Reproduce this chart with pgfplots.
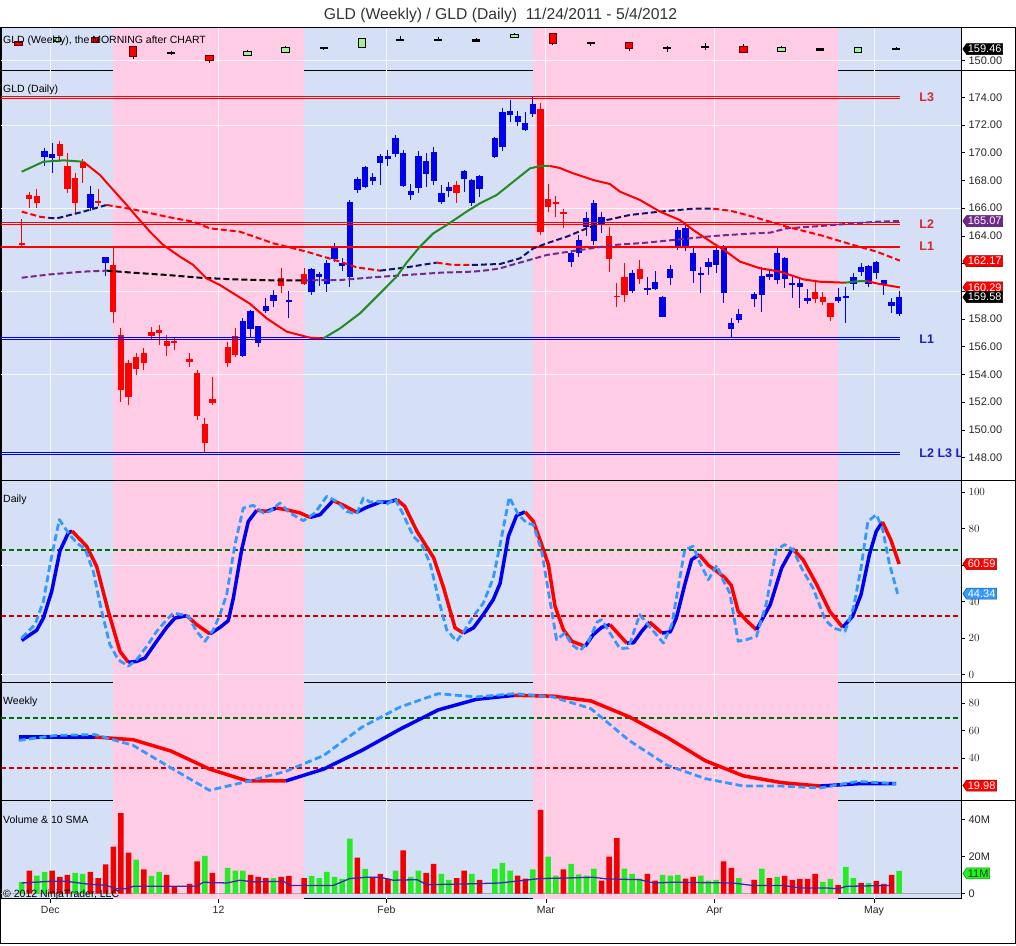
\documentclass[border=0pt]{standalone}
\usepackage{fontspec}
\setmainfont{Liberation Sans}
\usepackage{pgfplots}
\usepackage{pgfplotstable}
\pgfplotsset{compat=1.18}
\usetikzlibrary{shapes.symbols}

\definecolor{bluebg}{RGB}{213,223,246}
\definecolor{pinkbg}{RGB}{255,204,230}
\definecolor{gridc}{RGB}{246,246,252}
\definecolor{cblue}{RGB}{0,0,235}
\definecolor{cred}{RGB}{255,0,0}
\definecolor{magreen}{RGB}{34,139,34}
\definecolor{manavy}{RGB}{20,20,110}
\definecolor{mapurple}{RGB}{120,40,140}
\definecolor{stblue}{RGB}{0,0,240}
\definecolor{stlight}{RGB}{51,153,255}
\definecolor{obgreen}{RGB}{0,110,0}
\definecolor{osred}{RGB}{200,0,0}
\definecolor{volgreen}{RGB}{40,235,40}
\definecolor{volred}{RGB}{240,0,0}
\definecolor{volsma}{RGB}{60,40,170}
\definecolor{lred}{RGB}{215,40,40}
\definecolor{lblue}{RGB}{30,30,190}
\definecolor{wkup}{RGB}{160,240,160}
\definecolor{tagpurple}{RGB}{112,40,140}
\definecolor{taggreen}{RGB}{40,240,40}

% ---------------- daily candles ----------------
\pgfplotstableread{
s o h l c
3 169.72 170.32 169.07 170.12
4 169.64 170.68 168.56 169.91
9 165.99 167.62 165.79 167.00
11 162.02 162.45 161.13 162.45
29 155.33 158.05 155.28 157.88
30 157.25 158.65 156.60 158.60
31 156.24 157.50 156.00 157.49
32 158.58 159.49 158.46 158.94
33 159.32 160.09 158.89 159.73
35 159.30 160.04 158.05 159.35
38 159.97 161.66 159.73 161.58
39 161.00 161.41 160.38 161.24
40 160.53 162.26 159.97 162.07
41 162.33 163.46 162.14 163.17
42 161.82 162.38 161.49 162.02
43 161.06 166.59 160.29 166.42
44 167.31 168.27 167.07 168.08
45 167.50 169.04 167.43 168.95
46 167.98 168.51 167.67 168.22
47 169.28 169.91 167.67 169.76
48 169.57 170.20 169.04 169.76
49 169.91 171.28 169.67 171.04
50 167.60 170.20 167.50 169.96
51 166.95 167.74 166.59 167.24
52 167.43 170.15 167.12 169.76
53 168.46 170.00 167.50 169.43
54 167.98 170.39 167.67 170.08
55 166.47 167.67 166.30 167.12
56 167.26 167.91 166.78 167.50
58 168.13 168.75 167.19 168.68
59 166.35 168.08 166.16 168.03
60 167.36 168.39 166.83 168.32
62 169.67 171.16 169.59 171.04
63 170.44 173.20 170.15 172.91
64 172.72 173.80 172.24 173.01
65 172.24 173.04 171.93 172.65
66 171.64 172.91 171.59 172.12
67 172.80 174.00 172.55 173.52
72 162.14 162.86 161.78 162.74
73 162.79 164.06 162.50 163.70
74 164.66 165.75 163.99 165.26
75 163.65 166.59 163.34 166.40
76 164.86 165.75 164.18 165.34
80 160.04 161.53 159.85 161.34
82 160.14 161.06 159.73 160.19
83 160.16 161.49 160.09 160.69
84 158.17 159.66 158.12 159.61
85 160.93 161.90 160.45 161.58
86 163.22 164.66 162.98 164.42
87 163.22 164.86 162.93 164.54
88 161.49 163.10 160.62 162.74
89 161.18 161.78 159.85 161.34
90 161.73 162.38 161.18 162.14
91 161.90 163.27 161.35 162.98
92 159.90 163.34 159.18 163.22
93 157.25 158.05 156.60 157.69
94 157.93 158.70 157.69 158.34
96 159.42 159.97 158.89 159.78
97 159.73 161.78 158.53 161.13
98 161.06 161.53 160.81 161.22
99 160.81 163.10 160.52 162.74
100 160.86 162.50 160.21 162.43
101 160.52 161.18 159.49 160.55
102 160.28 161.06 158.77 160.62
103 159.32 160.14 159.08 159.49
107 159.32 160.21 159.18 159.61
108 159.49 160.33 157.73 159.66
109 160.52 161.34 160.09 161.01
110 161.42 162.07 161.10 161.78
111 160.52 161.90 160.28 161.82
112 161.30 162.19 160.86 162.09
113 160.45 160.81 159.73 160.81
114 158.96 159.49 158.41 159.25
115 158.36 160.02 158.21 159.61
}\dailyup

\pgfplotstableread{
s o h l c
0 163.45 165.19 163.30 163.35
1 166.95 167.19 165.99 166.64
2 166.88 167.36 166.04 166.40
5 170.63 170.85 169.35 169.76
6 169.04 169.96 167.07 167.36
7 168.15 168.56 165.63 166.35
8 169.35 169.55 167.79 168.87
10 166.45 167.38 166.16 166.40
12 161.90 163.10 157.73 158.48
13 156.84 157.32 152.03 152.87
14 154.80 155.04 151.79 152.35
15 155.28 155.52 153.96 154.37
16 155.52 155.93 154.32 154.85
17 157.04 157.45 156.53 156.77
18 157.21 157.57 156.12 157.01
19 156.41 156.84 155.35 156.07
20 156.40 156.72 155.76 156.33
22 155.11 155.57 154.56 154.92
23 154.12 154.32 150.71 151.02
24 150.42 150.83 148.42 149.07
25 152.23 153.84 151.79 151.91
27 156.00 156.36 154.56 154.80
28 156.77 157.32 155.28 155.40
34 160.98 161.66 159.85 160.38
37 161.22 161.66 160.45 160.53
57 167.65 167.98 166.40 167.12
68 173.13 173.56 164.06 164.30
69 166.64 167.74 165.75 166.11
70 166.37 166.88 165.39 166.33
71 165.70 165.91 164.54 165.66
77 163.99 164.66 161.41 162.31
78 159.69 160.62 158.84 159.57
79 161.06 162.02 159.25 159.73
81 161.58 162.26 160.52 160.86
104 159.97 160.69 159.13 159.42
105 159.56 159.97 159.01 159.25
106 159.13 159.18 157.88 158.17
}\dailydn

% ---------------- weekly candles (top strip) ----------------
\pgfplotstableread{
s o h l c
-0.4 165.13 165.7 161.5 162.70
9.6 168.1 168.5 165.0 165.4
14.6 160.8 161.9 151.6 153.8
24.6 154.0 154.0 148.4 150.6
69.6 171.4 172.7 162.7 164.1
79.6 164.1 164.1 158.1 160.0
94.6 161.3 163.3 156.0 157.3
}\wkred
\pgfplotstableread{
s o h l c
4.6 165.9 169.3 165.4 168.6
29.6 154.6 158.7 154.6 157.3
34.6 157.3 161.9 156.0 160.0
44.6 160.8 168.1 160.0 167.3
64.6 168.9 172.2 168.9 171.0
99.6 158.1 161.9 158.1 160.0
109.6 157.3 160.0 157.3 160.0
}\wkup
\pgfplotstableread{
s o h l c
19.6 156.4 157.8 154.4 155.6
39.6 160.7 160.8 158.7 160.2
49.6 167.3 170.0 166.7 166.7
54.6 167.3 169.4 166.7 166.7
59.6 166.7 168.1 165.9 165.9
74.6 164.9 165.4 161.9 163.8
84.6 160.3 161.9 157.3 159.8
89.6 161.6 164.1 158.7 161.0
104.6 159.5 160.5 158.7 158.7
114.6 159.9 161.3 159.2 159.46
}\wkdoji

% ---------------- volume (millions) ----------------
\pgfplotstableread{
s v
0 6.4
2 9.8
3 11.8
7 11.3
8 10.7
15 18.4
17 9.6
18 11.8
24 20.5
27 14.0
28 12.5
29 12.5
33 8.5
38 9.6
39 8.5
40 11.8
41 9.1
42 8.0
43 29.8
45 13.5
49 12.5
51 9.1
52 12.5
55 10.7
56 7.5
59 10.7
62 13.5
63 16.7
64 12.5
67 13.1
69 20.0
70 9.8
72 16.2
73 10.4
74 9.8
75 13.6
79 13.6
80 10.7
81 8.2
84 10.2
85 9.8
86 10.2
89 9.8
90 7.1
91 7.5
94 8.5
97 13.6
99 9.1
105 6.4
106 8.0
108 14.5
109 8.5
111 5.8
115 12.4
}\volg
\pgfplotstableread{
s v
1 12.5
4 12.5
5 9.1
6 10.2
9 11.8
10 8.5
11 15.8
12 25.5
13 43.6
14 22.2
16 13.1
19 10.2
20 4.0
22 5.3
23 17.5
25 11.3
30 10.2
31 9.1
32 8.5
34 9.1
35 9.6
37 8.5
44 19.5
46 9.1
47 10.7
48 8.0
50 23.5
53 11.3
54 16.2
57 8.5
58 12.5
60 7.5
65 9.8
66 8.2
68 45.3
71 13.1
76 7.1
77 20.0
78 30.0
82 10.7
83 7.1
87 8.2
88 9.1
92 17.5
93 14.0
96 7.5
98 8.5
100 9.6
101 7.5
102 8.0
103 8.0
104 10.7
107 4.7
110 5.8
112 6.9
113 5.3
114 10.2
}\volr

\pgfplotsset{
  panel/.style={scale only axis, width=960pt, anchor=north west,
    xmin=-2.713, xmax=123.106, xtick=\empty,
    ytick pos=right, yticklabel pos=right, ytick align=outside,
    major tick length=4pt, tick style={black, line width=0.7pt},
    axis line style={black, line width=0.9pt},
    yticklabel style={font=\fontsize{11}{12}\selectfont, text=black!85},
    axis background/.style={fill=bluebg}},
  fastup/.style={magreen, line width=2pt},
  fastdn/.style={cred, line width=2pt},
  medup/.style={manavy, line width=2pt, dash pattern=on 6pt off 3pt},
  meddn/.style={cred, line width=2pt, dash pattern=on 6pt off 3pt},
  longp/.style={mapurple, line width=2pt, dash pattern=on 6pt off 3pt},
  longb/.style={black, line width=2pt, dash pattern=on 6pt off 3pt},
  stup/.style={stblue, line width=3.5pt, line join=round},
  stdn/.style={cred, line width=3.5pt, line join=round},
  stdash/.style={stlight, line width=2.8pt, dash pattern=on 7pt off 3.5pt, line join=round},
}

\newcommand{\bands}{%
  \fill[pinkbg] ({axis cs:11.93,0}|-{rel axis cs:0,0}) rectangle ({axis cs:37.0,0}|-{rel axis cs:0,1});
  \fill[pinkbg] ({axis cs:66.97,0}|-{rel axis cs:0,0}) rectangle ({axis cs:107.0,0}|-{rel axis cs:0,1});
  \draw[gridc, line width=0.8pt] ({axis cs:3.75,0}|-{rel axis cs:0,0}) -- ({axis cs:3.75,0}|-{rel axis cs:0,1});
  \draw[gridc, line width=0.8pt] ({axis cs:25.8,0}|-{rel axis cs:0,0}) -- ({axis cs:25.8,0}|-{rel axis cs:0,1});
  \draw[gridc, line width=0.8pt] ({axis cs:47.8,0}|-{rel axis cs:0,0}) -- ({axis cs:47.8,0}|-{rel axis cs:0,1});
  \draw[gridc, line width=0.8pt] ({axis cs:68.7,0}|-{rel axis cs:0,0}) -- ({axis cs:68.7,0}|-{rel axis cs:0,1});
  \draw[gridc, line width=0.8pt] ({axis cs:90.8,0}|-{rel axis cs:0,0}) -- ({axis cs:90.8,0}|-{rel axis cs:0,1});
  \draw[gridc, line width=0.8pt] ({axis cs:111.7,0}|-{rel axis cs:0,0}) -- ({axis cs:111.7,0}|-{rel axis cs:0,1});
}
\newcommand{\hgrid}[1]{\draw[gridc, line width=0.7pt] ({rel axis cs:0,0}|-{axis cs:0,#1}) -- ({rel axis cs:1,0}|-{axis cs:0,#1});}

\newcommand{\wicks}[3]{%
  \addplot[draw=none, mark=none, error bars/.cd, y dir=both, y explicit, error mark=none,
    error bar style={draw=#2, line width=#3, solid}]
    table[x=s, y expr={(\thisrow{h}+\thisrow{l})/2}, y error expr={(\thisrow{h}-\thisrow{l})/2}] {#1};}
\newcommand{\bodies}[5]{%
  \addplot[draw=none, mark=none, error bars/.cd, y dir=both, y explicit, error mark=none,
    error bar style={draw=#2, line width=#3, solid}]
    table[x=s, y expr={(\thisrow{o}+\thisrow{c})/2}, y error expr={max(abs(\thisrow{c}-\thisrow{o})/2,#4)+#5}] {#1};}

\tikzset{tag/.style={signal, signal to=west, signal pointer angle=110, draw=#1!55!black, fill=#1,
   line width=0.5pt, text=white, font=\fontsize{11}{11}\selectfont, inner xsep=1.2pt, inner ysep=0.5pt,
   minimum height=11pt, anchor=west}}

\begin{document}
\begin{tikzpicture}
\useasboundingbox (0pt,0pt) rectangle (1016pt,-945pt);
\fill[white] (0pt,0pt) rectangle (1016pt,-945pt);

% ================= top strip: weekly =================
\begin{axis}[panel, at={(1pt,-27.5pt)}, height=42.5pt, ymin=142.48, ymax=176.86, ytick={150}, yticklabels={150.00}]
\bands
\hgrid{150}
\wicks{\wkred}{black}{1pt}
\wicks{\wkup}{black}{1pt}
\wicks{\wkdoji}{black}{1pt}
\bodies{\wkred}{black!60!red}{8.5pt}{1.0}{0.8}
\bodies{\wkred}{cred}{6.5pt}{1.0}{0}
\bodies{\wkup}{black}{8.5pt}{1.0}{0.8}
\bodies{\wkup}{wkup}{6.5pt}{1.0}{0}
\bodies{\wkdoji}{black}{8pt}{0.9}{0}
\end{axis}

% ================= main daily price =================
\begin{axis}[panel, at={(1pt,-70pt)}, height=410.7pt, ymin=146.33, ymax=175.97,
  ytick={148,150,...,174},
  yticklabels={148.00,150.00,152.00,154.00,156.00,158.00,160.00,162.00,164.00,166.00,168.00,170.00,172.00,174.00}]
\bands
\hgrid{154}\hgrid{160}\hgrid{166}\hgrid{172}
\wicks{\dailyup}{cblue}{1pt}
\wicks{\dailydn}{cred}{1pt}
\bodies{\dailyup}{cblue}{6.3pt}{0.06}{0}
\bodies{\dailydn}{cred}{6.3pt}{0.06}{0}
\addplot[cred, line width=0.9pt] coordinates {(-2.713,174.07) (115.1,174.07)};
\addplot[cred, line width=0.9pt] coordinates {(-2.713,173.93) (115.1,173.93)};
\addplot[cred, line width=0.9pt] coordinates {(-2.713,164.98) (115.1,164.98)};
\addplot[cred, line width=0.9pt] coordinates {(-2.713,164.83) (115.1,164.83)};
\addplot[cred, line width=2pt] coordinates {(-2.713,163.22) (115.1,163.22)};
\addplot[cblue, line width=0.9pt] coordinates {(-2.713,156.67) (115.1,156.67)};
\addplot[cblue, line width=0.9pt] coordinates {(-2.713,156.53) (115.1,156.53)};
\addplot[cblue, line width=0.9pt] coordinates {(-2.713,148.38) (115.1,148.38)};
\addplot[cblue, line width=0.9pt] coordinates {(-2.713,148.24) (115.1,148.24)};
\addplot[longp] coordinates {(0,160.98) (3.71,161.22) (8.08,161.42) (11.14,161.49)};
\addplot[longb] coordinates {(11.14,161.49) (14.63,161.34) (19.0,161.18) (23.37,160.98) (27.73,160.86) (32.98,160.79) (36.91,160.79)};
\addplot[longp] coordinates {(36.91,160.79) (41.71,160.81) (46.08,161.01) (50.45,161.18) (54.82,161.34) (59.19,161.42) (61.37,161.54) (62.69,161.66) (65.75,162.14) (68.81,162.62) (73.18,162.98) (77.55,163.34) (81.9,163.51) (86.27,163.75) (90.64,163.99) (95.89,164.18) (98.07,164.23) (100.26,164.54) (104.62,164.71) (108.99,164.90) (112.05,165.02) (115.1,165.07)};
\addplot[meddn] coordinates {(0,165.75) (2.4,165.38) (3.5,165.3)};
\addplot[medup] coordinates {(3.5,165.3) (4.58,165.26) (8.08,165.75) (11.14,166.23)};
\addplot[meddn] coordinates {(11.14,166.23) (14.63,165.91) (19.0,165.38) (22.49,165.02) (24.68,164.54) (28.61,164.30) (32.98,163.46) (37.35,162.86) (41.71,162.14) (43.9,161.73) (46.96,161.49)};
\addplot[medup] coordinates {(46.96,161.49) (50.45,161.73) (54.38,162.07)};
\addplot[meddn] coordinates {(54.38,162.07) (56.56,161.90) (59.0,161.90)};
\addplot[medup] coordinates {(59.0,161.90) (62.69,161.97) (65.31,162.38) (67.06,163.10) (68.81,163.46) (71.43,163.94) (74.05,164.54) (76.67,165.14) (79.73,165.51) (83.65,165.75) (88.02,165.96) (90.64,165.96)};
\addplot[meddn] coordinates {(90.64,165.96) (92.83,165.82) (95.89,165.38) (100.26,164.66) (104.62,164.06) (108.99,163.34) (112.05,162.86) (115.1,162.21)};
\addplot[fastup] coordinates {(0,168.63) (2.84,169.35) (5.5,169.45) (8.08,169.35)};
\addplot[fastdn] coordinates {(8.08,169.35) (10.26,168.39) (12.0,167.31) (13.76,166.23) (15.07,165.38) (16.81,164.30) (18.56,163.34) (20.74,162.50) (22.49,161.90) (24.24,160.93) (25.99,160.45) (27.73,159.85) (29.92,159.1) (32.1,158.05) (34.72,157.09) (37.78,156.65) (39.53,156.6)};
\addplot[fastup] coordinates {(39.53,156.6) (41.71,157.32) (44.34,158.41) (46.96,159.85) (49.14,161.06) (50.45,162.07) (52.19,163.22) (53.94,164.18) (55.69,164.78) (58.31,165.75) (60.07,166.35) (62.25,166.95) (64.43,167.91) (66.62,168.87) (67.93,169.04) (69.2,169.05)};
\addplot[fastdn] coordinates {(69.2,169.05) (70.5,168.9) (72.29,168.51) (74.92,168.03) (77.10,167.74) (78.41,167.19) (81.03,166.59) (83.65,165.75) (86.27,165.14) (88.02,164.42) (90.64,163.46) (92.0,163.0) (94.14,162.14) (96.76,161.66) (99.38,161.42) (102.44,160.86) (104.62,160.69) (107.9,160.62)};
\addplot[fastup] coordinates {(107.9,160.62) (109.42,160.72) (110.73,160.74)};
\addplot[fastdn] coordinates {(110.73,160.74) (112.48,160.52) (115.1,160.28)};
\node[anchor=west, font=\bfseries\fontsize{12.5}{13}\selectfont, text=lred] at (axis cs:117.2,174.0) {L3};
\node[anchor=west, font=\bfseries\fontsize{12.5}{13}\selectfont, text=lred] at (axis cs:117.2,164.83) {L2};
\node[anchor=west, font=\bfseries\fontsize{12.5}{13}\selectfont, text=lred] at (axis cs:117.2,163.22) {L1};
\node[anchor=west, font=\bfseries\fontsize{12.5}{13}\selectfont, text=lblue] at (axis cs:117.2,156.53) {L1};
\node[anchor=west, font=\bfseries\fontsize{12.5}{13}\selectfont, text=lblue] at (axis cs:117.2,148.3) {L2 L3 L};
\end{axis}

% ================= daily stochastic =================
\begin{axis}[panel, at={(1pt,-480.7pt)}, height=201.3pt, ymin=-4.0, ymax=106.18, ytick={0,20,40,60,80,100}]
\bands
\hgrid{0}\hgrid{60}
\addplot[obgreen, line width=1.8pt, dash pattern=on 5pt off 3pt] coordinates {(-2.713,68.4) (123.106,68.4)};
\addplot[osred, line width=1.8pt, dash pattern=on 5pt off 3pt] coordinates {(-2.713,32.3) (123.106,32.3)};
\addplot[stup] coordinates {(0,18.8) (1.96,24.3) (2.84,31.0) (3.93,45.6) (5.02,67.9) (6.11,77.6) (6.6,78.6)};
\addplot[stdn] coordinates {(6.6,78.6) (8.51,70.3) (9.82,59.3) (11.35,34.7) (12.88,12.8) (13.97,6.8)};
\addplot[stup] coordinates {(13.97,6.8) (15.07,7.3) (16.16,9.1) (17.69,18.3) (19.0,25.9) (20.09,31.0) (21.62,32.3)};
\addplot[stdn] coordinates {(21.62,32.3) (22.93,27.4) (24.68,22.3)};
\addplot[stup] coordinates {(24.68,22.3) (25.99,25.9) (27.08,29.6) (27.74,42.0) (28.83,68.4) (29.7,83.9) (30.8,90.0)};
\addplot[stdn] coordinates {(30.8,90.0) (32.1,89.4)};
\addplot[stup] coordinates {(32.1,89.4) (33.4,91.2)};
\addplot[stdn] coordinates {(33.4,91.2) (34.7,90.3) (36.5,88.5) (37.8,86.1)};
\addplot[stup] coordinates {(37.8,86.1) (39.1,87.6) (40.8,95.3)};
\addplot[stdn] coordinates {(40.8,95.3) (42.2,92.7) (43.9,88.9)};
\addplot[stup] coordinates {(43.9,88.9) (45.2,91.6) (47.0,94.5) (48.1,94.5) (49.2,95.8)};
\addplot[stdn] coordinates {(49.2,95.8) (50.2,92.2) (51.8,78.5) (54.0,63.9) (55.3,47.5) (56.8,25.6) (57.9,22.8)};
\addplot[stup] coordinates {(57.9,22.8) (59.2,25.6) (60.5,32.9) (61.8,41.1) (62.7,50.0) (63.78,75.7) (64.87,87.2) (65.97,89.1)};
\addplot[stdn] coordinates {(65.97,89.1) (67.06,83.9) (68.15,71.2) (69.03,60.2) (69.9,37.4) (71.0,24.6) (72.1,18.3) (73.83,15.5)};
\addplot[stup] coordinates {(73.83,15.5) (74.9,21.9) (76.0,25.9) (77.1,27.4)};
\addplot[stdn] coordinates {(77.1,27.4) (78.2,22.3) (79.3,17.3)};
\addplot[stup] coordinates {(79.3,17.3) (80.2,17.5) (81.25,23.7) (82.3,28.8)};
\addplot[stdn] coordinates {(82.3,28.8) (83.9,22.8)};
\addplot[stup] coordinates {(83.9,22.8) (85.0,23.4) (85.8,31.0) (86.9,49.3) (87.8,63.0) (88.8,65.7)};
\addplot[stdn] coordinates {(88.8,65.7) (90.0,59.9) (91.1,56.6) (92.2,52.9) (93.0,48.9) (93.9,34.7) (95.0,29.6) (96.3,24.6)};
\addplot[stup] coordinates {(96.3,24.6) (98.1,38.3) (99.6,58.4) (101.0,69.0)};
\addplot[stdn] coordinates {(101.0,69.0) (102.4,63.0) (104.2,49.3) (105.9,34.7) (107.6,25.9)};
\addplot[stup] coordinates {(107.6,25.9) (108.9,32.0) (110.0,43.8) (111.1,65.7) (112.0,78.5) (112.8,83.6)};
\addplot[stdn] coordinates {(112.8,83.6) (113.9,73.9) (115.0,60.6)};
\addplot[stdash] coordinates {(0,20.1) (1.74,27.4) (2.84,40.2) (3.71,60.2) (4.93,84.9) (6.11,77.6) (7.2,72.1) (8.29,69.0) (9.38,56.6) (10.48,34.7) (11.57,16.4) (12.66,8.2) (13.97,4.6) (15.07,8.2) (16.38,15.5) (17.69,23.7) (19.0,30.1) (19.87,33.8) (20.96,32.9) (21.84,32.0) (22.93,23.7) (24.02,18.3) (25.12,24.6) (25.99,32.9) (26.86,43.8) (27.95,71.2) (29.04,91.2) (30.35,92.7) (31.66,88.5) (32.54,89.4) (33.85,94.0) (35.16,88.5) (36.91,84.3) (38.44,88.5) (39.97,97.6) (41.28,94.9) (42.59,89.4) (43.9,88.0) (44.78,96.7) (45.65,94.5) (46.74,94.9) (47.84,93.4) (48.93,96.3) (50.02,87.6) (51.33,75.7) (52.42,71.2) (53.51,61.1) (54.82,38.3) (55.7,24.6) (57.0,18.3) (58.1,24.6) (59.2,32.0) (60.5,39.2) (61.8,52.9) (62.69,71.0) (63.9,97.1) (65.1,87.6) (66.2,83.0) (67.06,82.1) (68.15,67.5) (69.03,45.6) (70.1,19.2) (71.2,22.8) (72.1,16.4) (73.2,13.2) (74.3,18.3) (75.4,28.8) (76.0,30.1) (77.1,22.8) (78.4,14.3) (79.5,14.6) (81.0,32.9) (81.9,28.3) (83.0,22.8) (84.1,17.3) (85.2,27.4) (86.1,49.3) (86.9,68.4) (88.0,70.3) (88.9,61.1) (90.0,52.0) (91.1,59.9) (91.9,52.0) (92.8,44.7) (93.9,18.3) (95.0,19.2) (96.3,21.0) (97.6,39.2) (98.9,68.4) (100.0,71.2) (101.1,68.4) (102.2,58.4) (103.7,47.5) (105.3,30.1) (106.4,25.5) (107.9,23.7) (109.0,36.5) (110.0,58.4) (110.9,83.9) (112.0,87.6) (112.8,80.3) (113.7,61.1) (114.8,44.3)};
\end{axis}

% ================= weekly stochastic =================
\begin{axis}[panel, at={(1pt,-682pt)}, height=118.3pt, ymin=9.24, ymax=95.27, ytick={40,60,80}]
\bands
\addplot[obgreen, line width=1.8pt, dash pattern=on 5pt off 3pt] coordinates {(-2.713,69.3) (123.106,69.3)};
\addplot[osred, line width=1.8pt, dash pattern=on 5pt off 3pt] coordinates {(-2.713,32.7) (123.106,32.7)};
\addplot[stup] coordinates {(-0.4,55.3) (4.6,55.3) (9.6,55.3)};
\addplot[stdn] coordinates {(9.6,55.3) (14.6,53.3) (19.6,45.0) (24.6,32.0) (29.6,23.3) (34.6,23.3)};
\addplot[stup] coordinates {(34.6,23.3) (39.6,32.0) (44.6,45.6) (49.6,61.0) (54.6,75.0) (59.6,82.7) (64.6,85.6)};
\addplot[stdn] coordinates {(64.6,85.6) (69.6,85.0) (74.6,81.5) (79.6,70.0) (84.6,55.0) (89.6,38.0) (94.6,27.0) (99.6,22.1) (104.6,19.6)};
\addplot[stup] coordinates {(104.6,19.6) (109.6,21.3) (114.6,21.3)};
\addplot[stdash] coordinates {(-0.4,52.8) (4.6,56.5) (9.6,57.0) (14.6,49.2) (19.6,32.7) (24.6,16.5) (29.6,23.0) (34.6,30.3) (39.6,41.9) (44.6,62.5) (49.6,77.1) (54.6,86.8) (59.6,84.4) (64.6,86.8) (69.6,84.4) (74.6,75.9) (79.6,52.8) (84.6,34.7) (89.6,25.0) (94.6,19.6) (99.6,19.6) (104.6,18.2) (109.6,23.0) (114.6,21.3)};
\end{axis}

% ================= volume =================
\begin{axis}[panel, at={(1pt,-800.3pt)}, height=98.4pt, ymin=-2.7, ymax=50.5,
  ytick={0,20,40}, yticklabels={0,20M,40M},
  xtick={3.75,25.8,47.8,68.7,90.8,111.7}, xticklabels={Dec,12,Feb,Mar,Apr,May},
  xtick pos=left, xtick align=outside,
  xticklabel style={font=\fontsize{10.5}{11}\selectfont, text=black!85}]
\bands
\addplot[black!35, line width=0.8pt] coordinates {(-2.713,0) (123.106,0)};
\addplot[ybar, bar width=5.5pt, bar shift=0pt, fill=volgreen, draw=none] table[x=s, y=v] {\volg};
\addplot[ybar, bar width=5.5pt, bar shift=0pt, fill=volred, draw=none] table[x=s, y=v] {\volr};
\addplot[volsma, line width=1.3pt] coordinates {(0,5.8) (3.7,6.7) (5.9,6.7) (8.5,5.3) (11.1,4.5) (12.4,2.7) (13.8,2.7) (14.6,4.0) (19.0,4.0) (22.9,4.0) (23.8,6.2) (26.9,5.8) (28.6,7.3) (30.4,6.4) (34.3,6.7) (35.2,4.5) (40.8,4.4) (43.0,8.2) (45.2,8.9) (47.0,8.9) (48.7,7.3) (51.8,7.6) (53.1,4.9) (58.3,5.3) (62.7,5.8) (67.9,8.2) (71.4,8.5) (74.9,8.9) (76.7,8.0) (81.0,7.6) (82.8,5.8) (85.4,6.2) (93.2,5.8) (95.9,4.4) (99.8,4.5) (102.0,3.1) (105.5,3.1) (107.0,2.7) (108.1,4.0) (114.0,4.5)};
\end{axis}

% ---------- frame & separators ----------
\draw[black, line width=1pt] (0.5pt,-27.5pt) rectangle (1015.5pt,-943.5pt);
\draw[black, line width=0.9pt] (961pt,-70pt) -- (1015.5pt,-70pt);
\draw[black, line width=0.9pt] (961pt,-480.7pt) -- (1015.5pt,-480.7pt);
\draw[black, line width=0.9pt] (961pt,-682pt) -- (1015.5pt,-682pt);
\draw[black, line width=0.9pt] (961pt,-800.3pt) -- (1015.5pt,-800.3pt);

\node[anchor=base, font=\fontsize{15.7}{16}\selectfont, text=black!80] at (500.5pt,-19pt) {GLD (Weekly) / GLD (Daily)\ \ 11/24/2011 - 5/4/2012};

% ---------- panel captions ----------
\node[anchor=base west, font=\fontsize{10.5}{11}\selectfont, inner sep=0pt] at (3pt,-43.3pt) {GLD (Weekly), the MORNING after CHART};
\node[anchor=base west, font=\fontsize{10.5}{11}\selectfont, inner sep=0pt] at (3pt,-92pt) {GLD (Daily)};
\node[anchor=base west, font=\fontsize{10.5}{11}\selectfont, inner sep=0pt] at (3pt,-502pt) {Daily};
\node[anchor=base west, font=\fontsize{10.5}{11}\selectfont, inner sep=0pt] at (3pt,-704.5pt) {Weekly};
\node[anchor=base west, font=\fontsize{10.5}{11}\selectfont, inner sep=0pt] at (3pt,-823.3pt) {Volume \& 10 SMA};
\node[anchor=base west, font=\fontsize{10.5}{11}\selectfont, inner sep=0pt] at (3pt,-897pt) {© 2012 NinjaTrader, LLC};

% ---------- value tags ----------
\node[tag=black] at (962.5pt,-49.0pt) {159.46};
\node[tag=tagpurple] at (962.5pt,-221.0pt) {165.07};
\node[tag=cred] at (962.5pt,-261.2pt) {162.17};
\node[tag=cred] at (962.5pt,-287.3pt) {160.29};
\node[tag=black] at (962.5pt,-297.1pt) {159.58};
\node[tag=cred] at (962.5pt,-564.0pt) {60.59};
\node[tag=stlight] at (962.5pt,-593.7pt) {44.34};
\node[tag=cred] at (962.5pt,-785.5pt) {19.98};
\node[tag=taggreen, text=black!70!green] at (962.5pt,-873.4pt) {11M};
\end{tikzpicture}
\end{document}
